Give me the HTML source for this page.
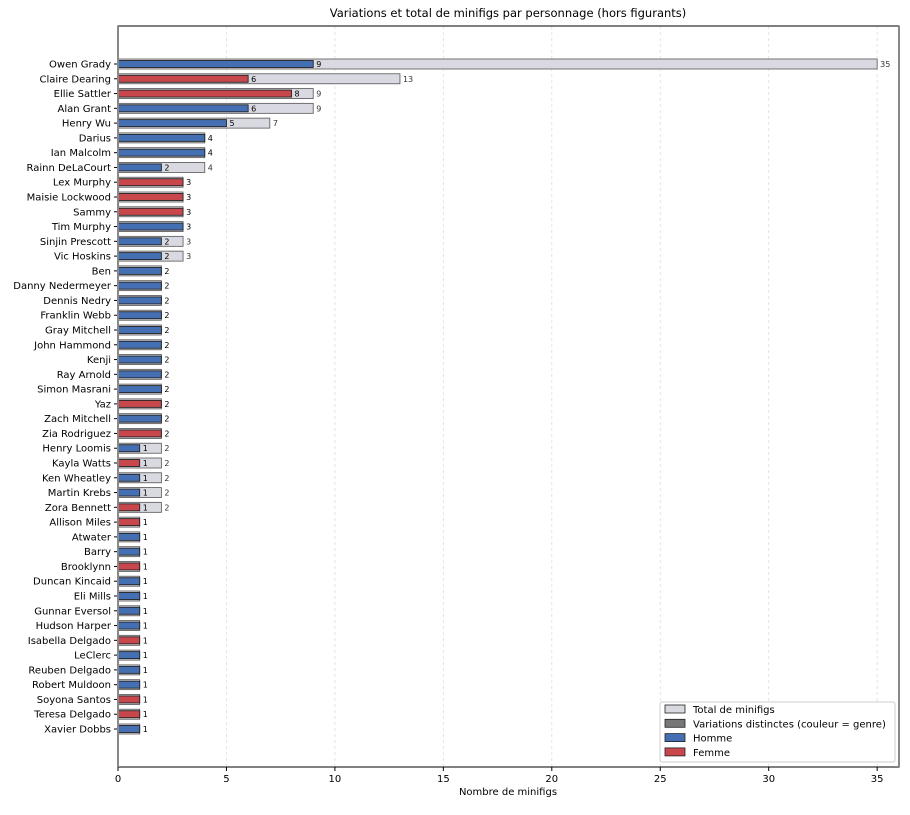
<!DOCTYPE html>
<html><head><meta charset="utf-8"><style>
body{margin:0;background:#fff;font-family:"Liberation Sans","DejaVu Sans",sans-serif;}
svg text{font-family:"DejaVu Sans","Liberation Sans",sans-serif;}
</style></head><body>
<svg id="chart" width="910" height="810" xmlns="http://www.w3.org/2000/svg"></svg>
<script>
const names=["Owen Grady","Claire Dearing","Ellie Sattler","Alan Grant","Henry Wu","Darius","Ian Malcolm","Rainn DeLaCourt","Lex Murphy","Maisie Lockwood","Sammy","Tim Murphy","Sinjin Prescott","Vic Hoskins","Ben","Danny Nedermeyer","Dennis Nedry","Franklin Webb","Gray Mitchell","John Hammond","Kenji","Ray Arnold","Simon Masrani","Yaz","Zach Mitchell","Zia Rodriguez","Henry Loomis","Kayla Watts","Ken Wheatley","Martin Krebs","Zora Bennett","Allison Miles","Atwater","Barry","Brooklynn","Duncan Kincaid","Eli Mills","Gunnar Eversol","Hudson Harper","Isabella Delgado","LeClerc","Reuben Delgado","Robert Muldoon","Soyona Santos","Teresa Delgado","Xavier Dobbs"];
const totals=[35,13,9,9,7,4,4,4,3,3,3,3,3,3,2,2,2,2,2,2,2,2,2,2,2,2,2,2,2,2,2,1,1,1,1,1,1,1,1,1,1,1,1,1,1,1];
const variations=[9,6,8,6,5,4,4,2,3,3,3,3,2,2,2,2,2,2,2,2,2,2,2,2,2,2,1,1,1,1,1,1,1,1,1,1,1,1,1,1,1,1,1,1,1,1];
const genders=["H","F","F","H","H","H","H","H","F","F","F","H","H","H","H","H","H","H","H","H","H","H","H","F","H","F","H","F","H","H","F","F","H","H","F","H","H","H","H","F","H","H","H","F","F","H"];
const xTicks=[0,5,10,15,20,25,30,35];
const svg=document.getElementById('chart');const NS="http://www.w3.org/2000/svg";
function mk(t,a,p){const e=document.createElementNS(NS,t);for(const k in a)e.setAttribute(k,a[k]);(p||svg).appendChild(e);return e;}
const L=118,R=899,T=26,B=767;
const xs=v=>L+v*21.69;
const ys=i=>64+i*((729-64)/(names.length-1));
const t=mk('text',{x:508,y:17,'font-size':11.5,'text-anchor':'middle'});t.textContent="Variations et total de minifigs par personnage (hors figurants)";


xTicks.forEach(v=>{const g=mk('line',{x1:xs(v),x2:xs(v),y1:T,y2:B,stroke:'#ddd','stroke-dasharray':'3,3','stroke-width':0.8});


mk('line',{x1:xs(v),x2:xs(v),y1:B,y2:B+4,stroke:'#000'});
const tl=mk('text',{x:xs(v),y:B+15,'font-size':10,'text-anchor':'middle'});tl.textContent=v;

});
names.forEach((n,i)=>{const y=ys(i);
const tb=mk('rect',{x:xs(0),y:y-5,width:xs(totals[i])-xs(0),height:10,fill:'#d9d9e1',stroke:'#555','stroke-width':0.8});


const vb=mk('rect',{x:xs(0),y:y-3.5,width:xs(variations[i])-xs(0),height:7,fill:genders[i]=="F"?'#c8474d':'#4470b3',stroke:'#222','stroke-width':0.9});


const vl=mk('text',{x:xs(variations[i])+3,y:y+3,'font-size':8});vl.textContent=variations[i];


if(totals[i]>variations[i]){const tl=mk('text',{x:xs(totals[i])+3,y:y+3,'font-size':8,fill:'#333'});tl.textContent=totals[i];

}
mk('line',{x1:L-4,x2:L,y1:y,y2:y,stroke:'#000'});
const nl=mk('text',{x:L-7,y:y+3.5,'font-size':10,'text-anchor':'end'});nl.textContent=n;

});
const fr=mk('rect',{x:L,y:T,width:R-L,height:B-T,fill:'none',stroke:'#000','stroke-width':1});


mk('line',{x1:R,x2:R,y1:T,y2:B,stroke:'#888','stroke-width':2});
mk('line',{x1:L,x2:L,y1:T,y2:B,stroke:'#888','stroke-width':2});
const xt=mk('text',{x:508,y:795,'font-size':10,'text-anchor':'middle'});xt.textContent="Nombre de minifigs";


const lg=mk('g',{});


mk('rect',{x:660,y:702,width:235,height:60,fill:'#fff',stroke:'#ccc',rx:2},lg);
[["Total de minifigs","#d9d9e1"],["Variations distinctes (couleur = genre)","#777"],["Homme","#4470b3"],["Femme","#c8474d"]].forEach((e,k)=>{const y=705+k*14.3;
mk('rect',{x:665,y:y,width:20,height:8,fill:e[1],stroke:'#222','stroke-width':0.8},lg);
const lt=mk('text',{x:693,y:y+8,'font-size':10},lg);lt.textContent=e[0];

});
</script>
</body></html>
